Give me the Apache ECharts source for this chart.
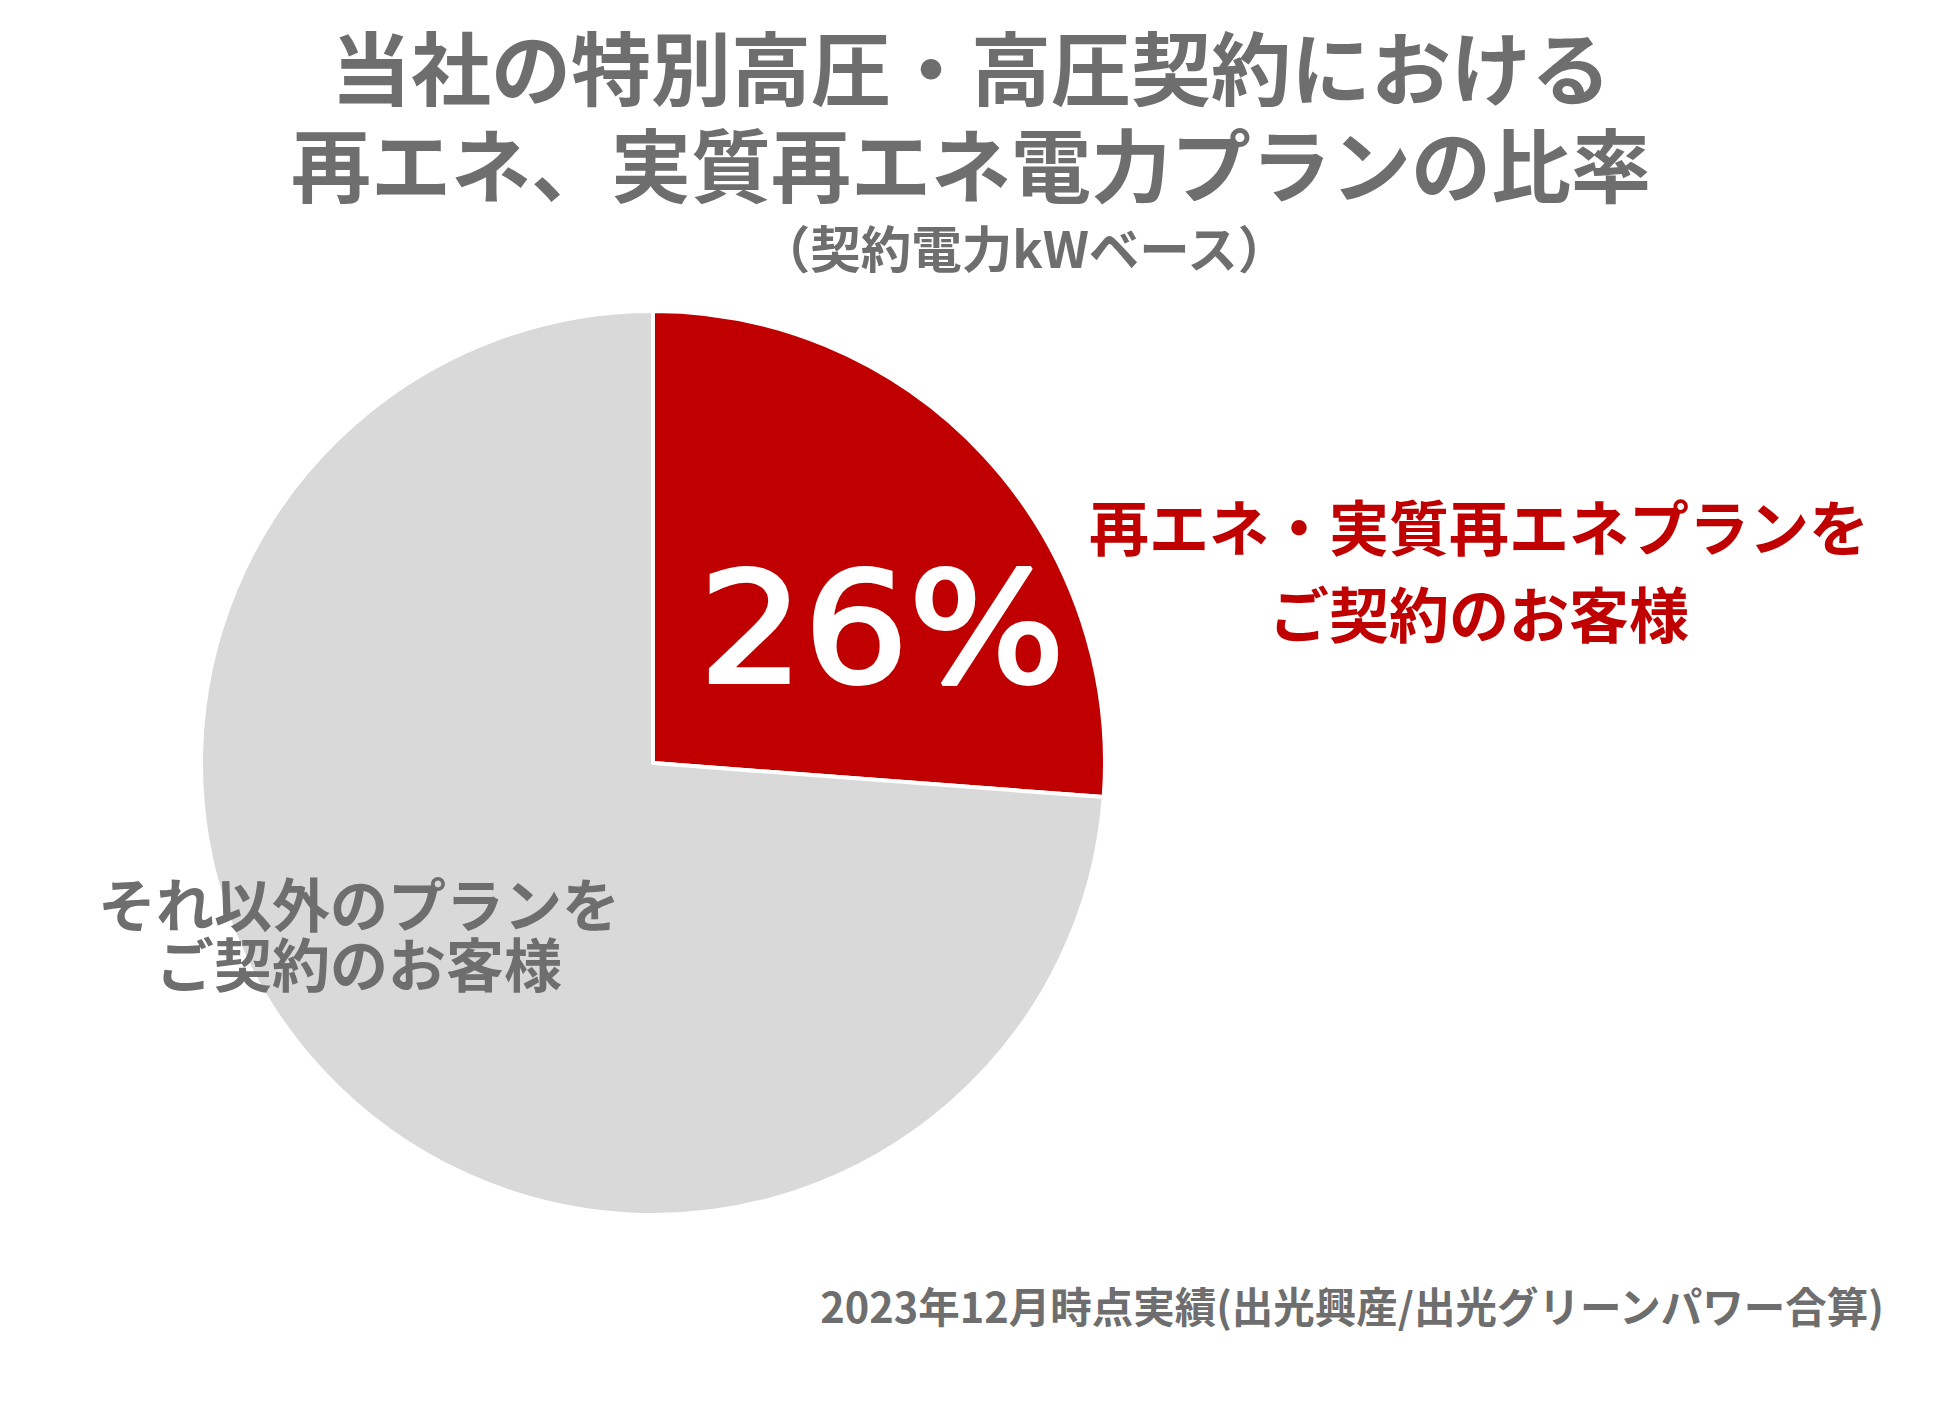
<!DOCTYPE html>
<html>
<head>
<meta charset="utf-8">
<script src="https://cdn.jsdelivr.net/npm/echarts@6/dist/echarts.min.js"></script>
<style>
html,body{margin:0;padding:0;background:#fff;}
#chart{width:1939px;height:1419px;}
</style>
</head>
<body>
<div id="chart"></div>
<script>
const categories = ['再エネ・実質再エネプランをご契約のお客様', 'それ以外のプランをご契約のお客様'];
const values = [26.2, 73.8];
const sliceColors = ['#C00000', '#D9D9D9'];
const titleLines = ['当社の特別高圧・高圧契約における', '再エネ、実質再エネ電力プランの比率'];
const subtitleText = '（契約電力kWベース）';
const renewLabelLines = ['再エネ・実質再エネプランを', 'ご契約のお客様'];
const otherLabelLines = ['それ以外のプランを', 'ご契約のお客様'];
const footnoteText = '2023年12月時点実績(出光興産/出光グリーンパワー合算)';

const GRAY = '#6E6E6E';
const JP = '"Noto Sans CJK JP"';

const chart = echarts.init(document.getElementById('chart'), null, {renderer: 'svg'});

function txt(text, x, y, size, color, align, lineHeight, family) {
  const style = {
    text: text,
    fill: color,
    font: 'bold ' + size + 'px ' + (family || JP),
    textAlign: align || 'center',
    textVerticalAlign: 'middle'
  };
  if (lineHeight) style.lineHeight = lineHeight;
  return {type: 'text', x: x, y: y, z: 100, silent: true, style: style};
}

const pct = Math.round(values[0] / (values[0] + values[1]) * 100);

const pctLabel = {
  type: 'text',
  x: 882, y: 629,
  z: 100,
  silent: true,
  scaleX: 1.07,
  style: {
    text: pct + '%',
    fill: '#FFFFFF',
    stroke: '#FFFFFF',
    lineWidth: 4,
    font: 'normal 154px "DejaVu Sans"',
    textAlign: 'center',
    textVerticalAlign: 'middle'
  }
};

const graphics = [
  txt(titleLines.join('\n'), 971, 112.5, 80, GRAY, 'center', 97),
  txt(subtitleText, 1024, 246, 50.5, GRAY),
  txt(renewLabelLines.join('\n'), 1479, 567.5, 60, '#C00000', 'center', 87),
  txt(otherLabelLines.join('\n'), 359, 932, 58, GRAY, 'center', 60),
  pctLabel,
  txt(footnoteText, 1884, 1305, 41.5, GRAY, 'right')
];

chart.setOption({
  backgroundColor: '#ffffff',
  animation: false,
  series: [{
    type: 'pie',
    z: 1,
    center: [653, 763],
    radius: 452,
    startAngle: 90,
    clockwise: true,
    label: {show: false},
    labelLine: {show: false},
    emphasis: {disabled: true},
    itemStyle: {borderColor: '#ffffff', borderWidth: 4},
    data: categories.map((c, i) => ({name: c, value: values[i], itemStyle: {color: sliceColors[i]}}))
  }],
  graphic: {elements: graphics}
});
</script>
</body>
</html>
